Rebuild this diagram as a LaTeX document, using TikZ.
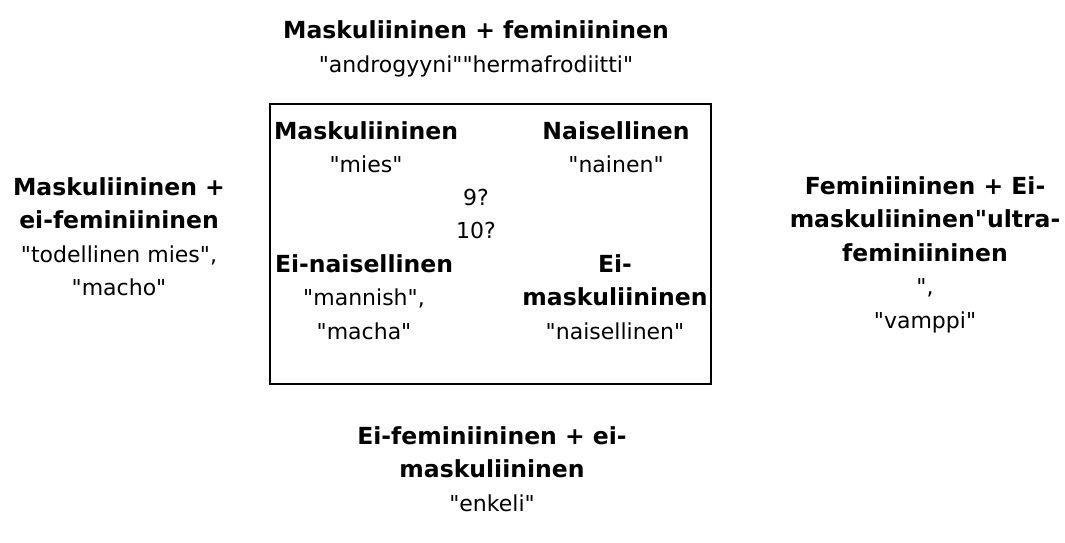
\documentclass[tikz,border=0pt]{standalone}
\usepackage{fontspec}
\setmainfont[Ligatures=TeXOff]{DejaVu Sans}
\newcommand{\hd}[1]{{\fontsize{23.5}{33.5}\selectfont\bfseries #1}}
\tikzset{
  blk/.style={font=\fontsize{22}{33.5}\selectfont, align=center, anchor=base, inner sep=0pt},
}
\begin{document}
\begin{tikzpicture}[x=1pt,y=-1pt]
    \useasboundingbox (0,0) rectangle (1065,543);
    \draw[line width=2pt] (270,104) rectangle (711,384);
    % outer labels (anchored at the last line)
    \node[blk] (top) at (476,72.5) {\hd{Maskuliininen + feminiininen}\\"androgyyni""hermafrodiitti"};
    \node[blk] (left) at (119,295.5) {\hd{Maskuliininen +}\\\hd{ei-feminiininen}\\"todellinen mies",\\"macho"};
    \node[blk] (right) at (925,328) {\hd{Feminiininen + Ei-}\\\hd{maskuliininen"ultra-}\\\hd{feminiininen}\\",\\"vamppi"};
    \node[blk] (bottom) at (492,511) {\hd{Ei-feminiininen + ei-}\\\hd{maskuliininen}\\"enkeli"};
    % inside the box
    \node[blk] (mies) at (366,172.5) {\hd{Maskuliininen}\\"mies"};
    \node[blk] (nainen) at (616,172.5) {\hd{Naisellinen}\\"nainen"};
    \node[blk] (mid) at (476,238.5) {9?\\10?};
    \node[blk] (macha) at (364,339) {\hd{Ei-naisellinen}\\"mannish",\\"macha"};
    \node[blk] (eimask) at (615,339) {\hd{Ei-}\\\hd{maskuliininen}\\"naisellinen"};
\end{tikzpicture}
\end{document}
